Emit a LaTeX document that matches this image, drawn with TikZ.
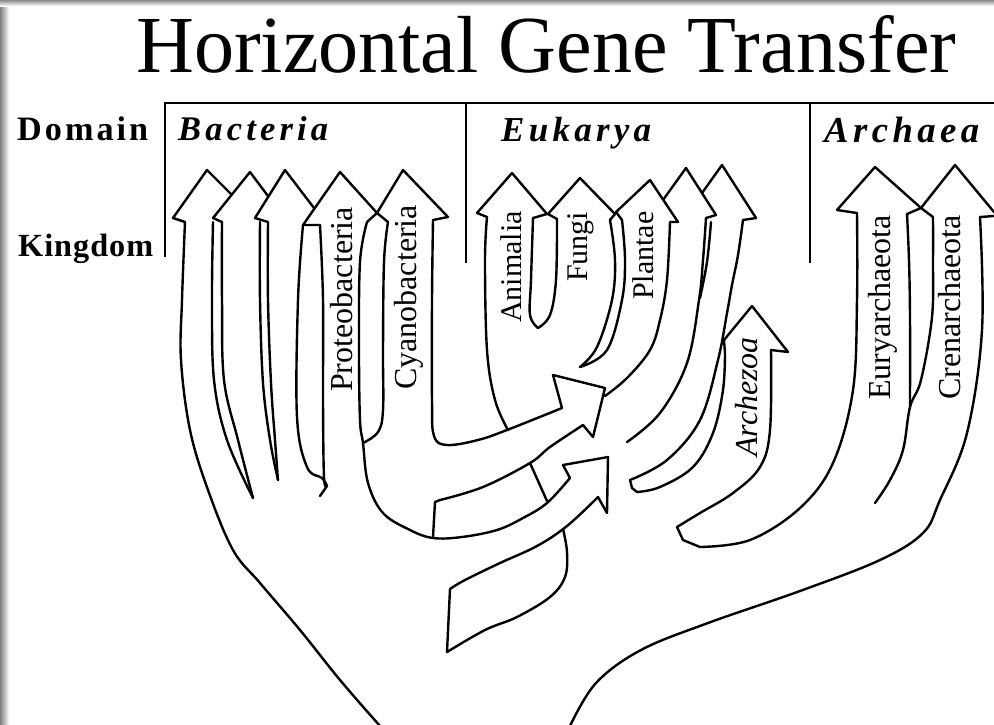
\documentclass[tikz,border=0pt]{standalone}
\usepackage{fontspec}
\setmainfont{Liberation Serif}
\usepackage{graphicx}
\begin{document}
\begin{tikzpicture}[x=1pt,y=-1pt,
  ink/.style={line width=2.4pt,line cap=round,line join=round},
  bracketline/.style={line width=1.7pt},
  lab/.style={inner sep=0,font=\fontsize{32}{32}\selectfont},
  labsm/.style={inner sep=0,font=\fontsize{30}{30}\selectfont},
  tw/.style={smooth,tension=0.6}]
\useasboundingbox (0,0) rectangle (994,724);
\fill[white] (0,0) rectangle (994,724);
\shade[left color=black!50,right color=white] (0,0) rectangle (9,724);
\shade[top color=black!45,bottom color=white] (0,0) rectangle (994,6);

% title and domain labels
\node[anchor=base west,inner sep=0] (title) at (136,72) {\resizebox{820pt}{57pt}{Horizontal Gene Transfer}};
\node[anchor=base west,inner sep=0] (domain) at (17,140) {\resizebox{131pt}{!}{\fontsize{34}{34}\selectfont\bfseries D\kern3pt o\kern3pt m\kern3pt a\kern3pt i\kern3pt n}};
\node[anchor=base west,inner sep=0] (kingdom) at (18,256) {\resizebox{135pt}{!}{\fontsize{33}{33}\selectfont\bfseries K\kern1pt i\kern1pt n\kern1pt g\kern1pt d\kern1pt o\kern1pt m}};
\node[anchor=base west,inner sep=0] (bact) at (178,140) {\resizebox{150pt}{!}{\fontsize{33}{33}\selectfont\bfseries\itshape B\kern4pt a\kern4pt c\kern4pt t\kern4pt e\kern4pt r\kern4pt i\kern4pt a}};
\node[anchor=base west,inner sep=0] (euk) at (501,141) {\resizebox{150pt}{!}{\fontsize{33}{33}\selectfont\bfseries\itshape E\kern4pt u\kern4pt k\kern4pt a\kern4pt r\kern4pt y\kern4pt a}};
\node[anchor=base west,inner sep=0] (arch) at (824,142) {\resizebox{155pt}{!}{\fontsize{33}{33}\selectfont\bfseries\itshape A\kern4pt r\kern4pt c\kern4pt h\kern4pt a\kern4pt e\kern4pt a}};

% brackets
\coordinate (b0) at (165,257);
\coordinate (b1) at (165,103);
\coordinate (b2) at (994,103);
\draw[bracketline] (b0) -- (b1) -- (b2);
\coordinate (e0) at (466,103); \coordinate (e1) at (466,263);
\draw[bracketline] (e0) -- (e1);
\coordinate (a0) at (810,103); \coordinate (a1) at (810,263);
\draw[bracketline] (a0) -- (a1);

% ---------------- Bacteria ----------------
\draw[ink] (185,222) -- (173,218) -- (207,170) -- (231,194);
\draw[ink] (222,222) -- (213,218) -- (250,172) -- (268,196);
\draw[ink] (268,222) -- (255,218) -- (285,170) -- (314,208);
\draw[ink] (320,225) -- (303,225) -- (340,172) -- (377,213) -- (367,222);
\draw[ink] (388,222) -- (377,213) -- (403,170) -- (448,217) -- (433,220);
% outer trunk left
\draw[ink] plot[tw] coordinates {(185,222) (182,300) (181,360) (190,430) (208,490) (233,550) (260,583) (300,630) (340,680) (380,726)};
% gaps
\draw[ink] plot[tw] coordinates {(213,222) (212,300) (214,380) (227,440) (253,498)};
\draw[ink] plot[tw] coordinates {(222,222) (222,300) (224,380) (238,440) (253,498)};
\draw[ink] plot[tw] coordinates {(260,222) (260,300) (263,383) (270,440) (278,480)};
\draw[ink] plot[tw] coordinates {(268,222) (268,300) (271,383) (275,440) (278,480)};
\draw[ink] plot[tw] coordinates {(303,225) (298,300) (297,417) (307,467) (322,478) (327,486)} -- (320,496);
\draw[ink] plot[tw] coordinates {(320,225) (323,300) (323,400) (324,477) (327,486)};
% proteobacteria right edge, envelope, lower transfer arrow and ribbon
\draw[ink] plot[tw] coordinates {(367,222) (360,262) (359,350) (360,420) (363,443) (368,483) (383,513) (410,530) (433,538) (462,537) (497,530) (523,518) (547,503) (570,478)}
  -- (563,465) -- (608,457) -- (607,513) -- (598,497)
  -- plot[tw] coordinates {(598,497) (567,526) (537,546) (500,563) (465,580) (450,589)}
  -- (447,652);
\draw[ink] plot[tw] coordinates {(447,652) (485,630) (517,617) (550,597) (565,577) (567,552) (563,529)};
% cyanobacteria left edge
\draw[ink] plot[tw] coordinates {(388,222) (384,262) (383,350) (383,410) (378,432) (363,443)};
% cyanobacteria right edge and upper transfer arrow
\draw[ink] plot[tw] coordinates {(433,220) (432,300) (432,400) (434,436) (447,445) (478,440) (507,430) (562,408)}
  -- (553,375) -- (605,388) -- (593,437) -- (583,425)
  -- plot[tw] coordinates {(583,425) (550,447) (530,463) (483,487) (440,500)}
  -- (435,502) -- (433,537);
\draw[ink] (530,463) -- (547,501);

% ---------------- Eukarya ----------------
\draw[ink] (487,217) -- (477,213) -- (512,173) -- (547,214) -- (533,218);
\draw[ink] (557,219) -- (548,214) -- (580,178) -- (615,214) -- (610,220);
\draw[ink] (622,220) -- (616,212) -- (650,180) -- (678,222) -- (670,222);
\draw[ink] (663,200) -- (686,168) -- (716,215) -- (706,218);
\draw[ink] (702,193) -- (722,165) -- (756,218) -- (743,220);
\draw[ink] plot[tw] coordinates {(487,217) (485,260) (487,350) (495,400) (508,430)};
\draw[ink] plot[tw] coordinates {(533,218) (531,280) (530,315) (538,328)};
\draw[ink] plot[tw] coordinates {(557,219) (556,280) (550,315) (538,328)};
\draw[ink] plot[tw] coordinates {(610,220) (615,260) (612,300) (597,347) (580,367)};
\draw[ink] plot[tw] coordinates {(622,220) (625,260) (622,300) (607,350) (580,367)};
\draw[ink] plot[tw] coordinates {(670,222) (667,280) (660,320) (650,350) (627,378) (605,396)};
\draw[ink] plot[tw] coordinates {(706,218) (703,260) (699,300) (687,363) (660,413) (627,442)};
\draw[ink] plot[tw] coordinates {(711,222) (707,262) (700,298)};
\draw[ink] plot[tw] coordinates {(743,220) (738,255) (732,285) (727,313) (718,360) (700,420) (667,460) (630,480)}
  -- (632,488) -- (637,492)
  -- plot[tw] coordinates {(637,492) (660,487) (693,467) (713,433) (723,390) (725,353)};
% Archezoa
\draw[ink] (725,353) -- (724,340) -- (752,306) -- (788,352) -- (771,350);
\draw[ink] plot[tw] coordinates {(771,350) (770,430) (760,467) (733,493) (700,513) (677,527)}
  -- (683,540) -- (700,547)
  -- plot[tw] coordinates {(700,547) (750,540) (800,508) (833,463) (853,390) (857,300) (857,213)};

% ---------------- Archaea ----------------
\draw[ink] (857,213) -- (837,210) -- (875,167) -- (921,208) -- (907,214);
\draw[ink] (933,217) -- (921,208) -- (955,165) -- (994,212);
\draw[ink] (994,216) -- (980,217);
\draw[ink] plot[tw] coordinates {(907,214) (909,260) (910,317) (910,407)};
\draw[ink] plot[tw] coordinates {(933,217) (933,260) (932,317) (921,380) (910,407) (903,450) (890,480) (875,503)};
\draw[ink] plot[tw] coordinates {(980,217) (982,330) (967,433) (940,500) (923,533) (880,560) (800,591) (708,623) (641,650) (596,683) (570,726)};

% ---------------- labels ----------------
\node[lab,rotate=90,anchor=base west] (proteo) at (352,392) {Proteobacteria};
\node[lab,rotate=90,anchor=base west] (cyano) at (416,390) {Cyanobacteria};
\node[labsm,rotate=90,anchor=base west] (anim) at (521,323) {Animalia};
\node[labsm,rotate=90,anchor=base west] (fungi) at (587,282) {Fungi};
\node[labsm,rotate=90,anchor=base west] (plant) at (653,300) {Plantae};
\node[lab,rotate=90,anchor=base west,font=\fontsize{32}{32}\selectfont\itshape] (archez) at (757,457) {Archezoa};
\node[lab,rotate=90,anchor=base west] (eury) at (890,400) {Euryarchaeota};
\node[lab,rotate=90,anchor=base west] (cren) at (960,400) {Crenarchaeota};
\end{tikzpicture}
\end{document}
